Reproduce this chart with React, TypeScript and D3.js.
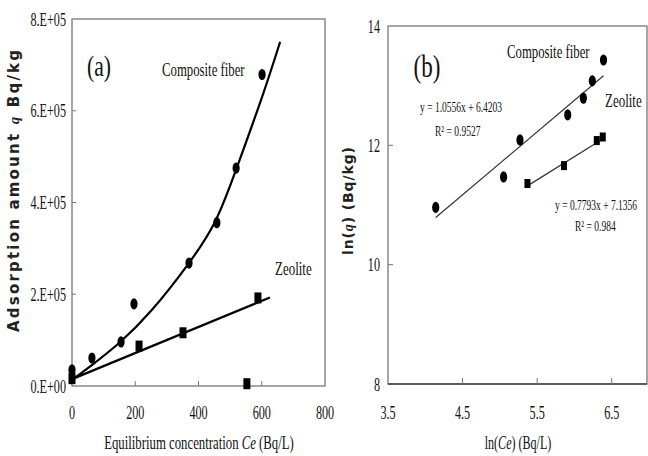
import React from 'react'
import * as d3 from 'd3'

// panel (a): adsorption isotherm
const fiberA = [
  [0, 35000], [63, 61000], [155, 96000], [196, 179000],
  [370, 268000], [458, 356000], [519, 475000], [601, 679000],
]
const zeoliteA = [
  [0, 16000], [212, 87000], [351, 116000], [553, 5000], [588, 192000],
]
// fitted curves
const fiberCurve = [
  [0, 13000], [60, 44000], [150, 92000], [250, 160000], [368, 264000],
  [458, 355000], [519, 472000], [605, 635000], [658, 750000],
]
const zeoliteLine = [[0, 15000], [626, 193000]]
const xTicksA = [0, 200, 400, 600, 800]
const yTicksA = [0, 200000, 400000, 600000, 800000]
const yTickLabelsA = ['0.E+00', '2.E+05', '4.E+05', '6.E+05', '8.E+05']

// panel (b): linearised (ln-ln)
const fiberB = [
  [4.14, 10.96], [5.05, 11.47], [5.27, 12.09], [5.91, 12.51],
  [6.12, 12.79], [6.24, 13.08], [6.39, 13.43],
]
const zeoliteB = [[5.37, 11.36], [5.86, 11.66], [6.30, 12.08], [6.38, 12.14]]
const fitFiber = { slope: 1.0556, icpt: 6.4203, from: 4.14, to: 6.39 }
const fitZeo = { slope: 0.7793, icpt: 7.1356, from: 5.37, to: 6.38 }
const xTicksB = [3.5, 4.5, 5.5, 6.5]
const yTicksB = [8, 10, 12, 14]

const serif = 'Liberation Serif, Times New Roman, serif'
const sans = 'DejaVu Sans, Verdana, sans-serif'

function T({ x, y, size, anchor = 'start', sx = 0.7, children }) {
  return (
    <text transform={`translate(${x},${y}) scale(${sx},1)`} fontSize={size}
      textAnchor={anchor} fontFamily={serif} fill="#111">
      {children}
    </text>
  )
}

function Circle({ cx, cy }) {
  return <ellipse cx={cx} cy={cy} rx={3.6} ry={5.6} fill="#000" />
}
function Square({ cx, cy, w = 7, h = 10 }) {
  return <rect x={cx - w / 2} y={cy - h / 2} width={w} height={h} fill="#000" />
}

export default function App() {
  // panel a
  const ax = d3.scaleLinear().domain([0, 800]).range([72, 325])
  const ay = d3.scaleLinear().domain([0, 800000]).range([386, 19])
  const lineA = d3.line().x(d => ax(d[0])).y(d => ay(d[1]))
  const curveA = d3.line().x(d => ax(d[0])).y(d => ay(d[1])).curve(d3.curveBasis)

  // panel b
  const bx = d3.scaleLinear().domain([3.5, 7.0]).range([388, 649])
  const by = d3.scaleLinear().domain([8, 14]).range([384, 26])
  const lineB = d3.line().x(d => bx(d[0])).y(d => by(d[1]))
  const fitPts = f => [[f.from, f.slope * f.from + f.icpt], [f.to, f.slope * f.to + f.icpt]]

  return (
    <svg width={648} height={456} style={{ position: 'absolute', left: 0, top: 0, background: '#fff' }}>
      {/* ---------- (a) ---------- */}
      <rect x={72} y={19} width={253} height={367} fill="none" stroke="#777" strokeWidth={1.3} />
      {yTicksA.slice(1, -1).map(t => (
        <line key={t} x1={72} x2={76} y1={ay(t)} y2={ay(t)} stroke="#777" />
      ))}
      {xTicksA.slice(1, -1).map(t => (
        <line key={t} x1={ax(t)} x2={ax(t)} y1={386} y2={381} stroke="#777" />
      ))}
      {yTicksA.map((t, i) => (
        <T key={t} x={66} y={ay(t) + 6.5} size={19} anchor="end" sx={0.64}>{yTickLabelsA[i]}</T>
      ))}
      {xTicksA.map(t => (
        <T key={t} x={ax(t)} y={419} size={19} anchor="middle" sx={0.64}>{t}</T>
      ))}
      <path d={curveA(fiberCurve)} fill="none" stroke="#000" strokeWidth={2.2} />
      <path d={lineA(zeoliteLine)} fill="none" stroke="#000" strokeWidth={2.2} />
      {fiberA.map((d, i) => <Circle key={i} cx={ax(d[0])} cy={ay(d[1])} />)}
      {zeoliteA.map((d, i) => <Square key={i} cx={ax(d[0])} cy={ay(d[1])} w={7} h={11} />)}
      <T x={99} y={76} size={30} anchor="middle" sx={0.72}>(a)</T>
      <T x={162} y={76} size={18} sx={0.71}>Composite fiber</T>
      <T x={275} y={275} size={18} sx={0.72}>Zeolite</T>
      <T x={199} y={449} size={18} anchor="middle" sx={0.71}>
        Equilibrium concentration <tspan fontStyle="italic">Ce</tspan> (Bq/L)
      </T>
      <text transform="translate(19,191) rotate(-90)" textAnchor="middle" fontFamily={sans}
        fontWeight="bold" fontSize={15} fill="#222" textLength={282} lengthAdjust="spacing">
        Adsorption amount <tspan fontStyle="italic" fontFamily={serif}>q</tspan> Bq/kg
      </text>

      {/* ---------- (b) ---------- */}
      <rect x={388} y={26} width={259} height={358} fill="none" stroke="#777" strokeWidth={1.3} />
      <line x1={388} x2={647} y1={384} y2={384} stroke="#444" strokeWidth={1.3} />
      {yTicksB.slice(1, -1).map(t => (
        <line key={t} x1={388} x2={393} y1={by(t)} y2={by(t)} stroke="#777" />
      ))}
      {xTicksB.slice(1).map(t => (
        <line key={t} x1={bx(t)} x2={bx(t)} y1={384} y2={378} stroke="#777" />
      ))}
      {yTicksB.map(t => (
        <T key={t} x={380} y={by(t) + 6.5} size={19} anchor="end" sx={0.64}>{t}</T>
      ))}
      {xTicksB.map(t => (
        <T key={t} x={bx(t)} y={419} size={19} anchor="middle" sx={0.64}>{t}</T>
      ))}
      <path d={lineB(fitPts(fitFiber))} fill="none" stroke="#333" strokeWidth={1.2} />
      <path d={lineB(fitPts(fitZeo))} fill="none" stroke="#333" strokeWidth={1.2} />
      {fiberB.map((d, i) => <Circle key={i} cx={bx(d[0])} cy={by(d[1])} />)}
      {zeoliteB.map((d, i) => <Square key={i} cx={bx(d[0])} cy={by(d[1])} w={6} h={9} />)}
      <T x={427} y={77} size={32} anchor="middle" sx={0.72}>(b)</T>
      <T x={507} y={58} size={18} sx={0.71}>Composite fiber</T>
      <T x={605} y={107} size={18} sx={0.72}>Zeolite</T>
      <T x={420} y={112} size={14} sx={0.68}>y = 1.0556x + 6.4203</T>
      <T x={435} y={136} size={14} sx={0.68}>R² = 0.9527</T>
      <T x={555} y={210} size={14} sx={0.68}>y = 0.7793x + 7.1356</T>
      <T x={575} y={231} size={14} sx={0.68}>R² = 0.984</T>
      <T x={518} y={449} size={18} anchor="middle" sx={0.67}>
        ln(<tspan fontStyle="italic">Ce</tspan>) (Bq/L)
      </T>
      <text transform="translate(353,201) rotate(-90)" textAnchor="middle" fontFamily={sans}
        fontWeight="bold" fontSize={14} fill="#222" textLength={108} lengthAdjust="spacing">
        ln(<tspan fontStyle="italic" fontFamily={serif}>q</tspan>) (Bq/kg)
      </text>
    </svg>
  )
}
